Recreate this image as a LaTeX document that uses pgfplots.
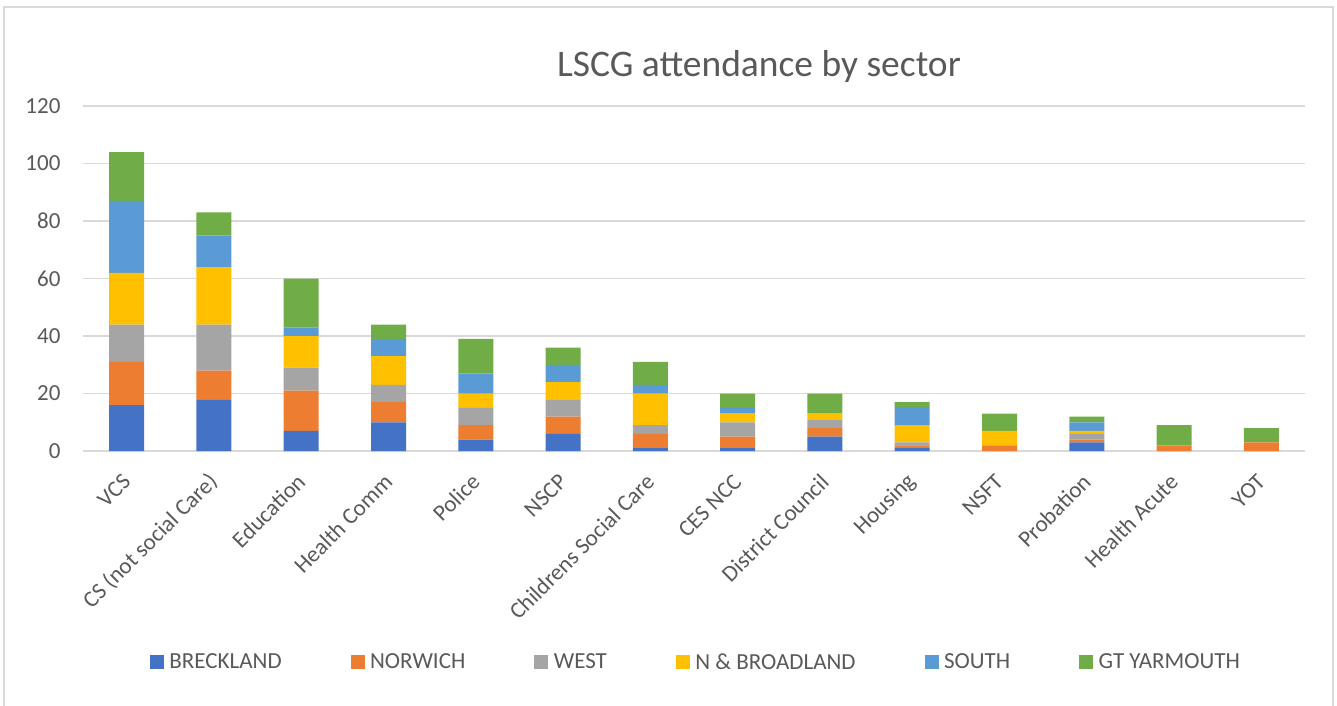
\documentclass[border=0pt]{standalone}
\usepackage{pgfplots}
\pgfplotsset{compat=1.18}
\usepackage{pgfplotstable}
\usepackage{fontspec}
\setmainfont{Carlito}
\definecolor{cB}{HTML}{4472C4}
\definecolor{cN}{HTML}{ED7D31}
\definecolor{cW}{HTML}{A5A5A5}
\definecolor{cNB}{HTML}{FFC000}
\definecolor{cS}{HTML}{5B9BD5}
\definecolor{cG}{HTML}{70AD47}
\definecolor{txt}{HTML}{595959}
\definecolor{gridc}{HTML}{D9D9D9}
\pgfplotstableread{
idx B N W NB S G
0 16 15 13 18 25 17
1 18 10 16 20 11 8
2 7 14 8 11 3 17
3 10 7 6 10 6 5
4 4 5 6 5 7 12
5 6 6 6 6 6 6
6 1 5 3 11 3 8
7 1 4 5 3 2 5
8 5 3 3 2 0 7
9 1 1 1 6 6 2
10 0 2 0 5 0 6
11 3 1 2 1 3 2
12 0 2 0 0 0 7
13 0 3 0 0 0 5
}\data
\begin{document}
\begin{tikzpicture}[x=1pt,y=1pt]
\useasboundingbox (0,0) rectangle (1337,705);
\draw[color=gridc, line width=1.2pt] (4,-10) rectangle (1333,698);
\node[text=txt, font=\fontsize{37.5}{44}\selectfont] at (759,638) {LSCG attendance by sector};
\begin{axis}[
  at={(83pt,254pt)}, anchor=south west,
  scale only axis, width=1222pt, height=345pt,
  ymin=0, ymax=120, xmin=-0.5, xmax=13.5,
  ytick={0,20,...,120},
  xtick={0,...,13},
  xticklabels={VCS,CS (not social Care),Education,Health Comm,Police,NSCP,Childrens Social Care,CES NCC,District Council,Housing,NSFT,Probation,Health Acute,YOT},
  axis line style={draw=none},
  tick style={draw=none},
  ymajorgrids, grid style={color=gridc, line width=1.2pt},
  ybar stacked, bar width=35pt,
  /pgf/number format/assume math mode=true,
  yticklabel style={font=\fontsize{23}{27}\selectfont, text=txt, anchor=east, xshift=-19pt},
  xticklabel style={font=\fontsize{23}{27}\selectfont, text=txt, yshift=-27pt, rotate=45, anchor=east, inner sep=0pt},
  legend columns=6,
  legend style={draw=none, at={(0.5016,-0.612)}, anchor=center, font=\fontsize{23}{27}\selectfont, text=txt,
    /tikz/every odd column/.append style={column sep=3.5pt},
    /tikz/every even column/.append style={column sep=67pt}},
]
\addplot+[fill=cB, draw=none, legend image code/.code={\fill[cB] (0pt,-7pt) rectangle (14pt,7pt);}] table[x=idx,y=B]{\data};
\addplot+[fill=cN, draw=none, legend image code/.code={\fill[cN] (0pt,-7pt) rectangle (14pt,7pt);}] table[x=idx,y=N]{\data};
\addplot+[fill=cW, draw=none, legend image code/.code={\fill[cW] (0pt,-7pt) rectangle (14pt,7pt);}] table[x=idx,y=W]{\data};
\addplot+[fill=cNB, draw=none, legend image code/.code={\fill[cNB] (0pt,-7pt) rectangle (14pt,7pt);}] table[x=idx,y=NB]{\data};
\addplot+[fill=cS, draw=none, legend image code/.code={\fill[cS] (0pt,-7pt) rectangle (14pt,7pt);}] table[x=idx,y=S]{\data};
\addplot+[fill=cG, draw=none, legend image code/.code={\fill[cG] (0pt,-7pt) rectangle (14pt,7pt);}] table[x=idx,y=G]{\data};
\legend{BRECKLAND,NORWICH,WEST,N \& BROADLAND,SOUTH,GT YARMOUTH}
\end{axis}
\end{tikzpicture}
\end{document}
